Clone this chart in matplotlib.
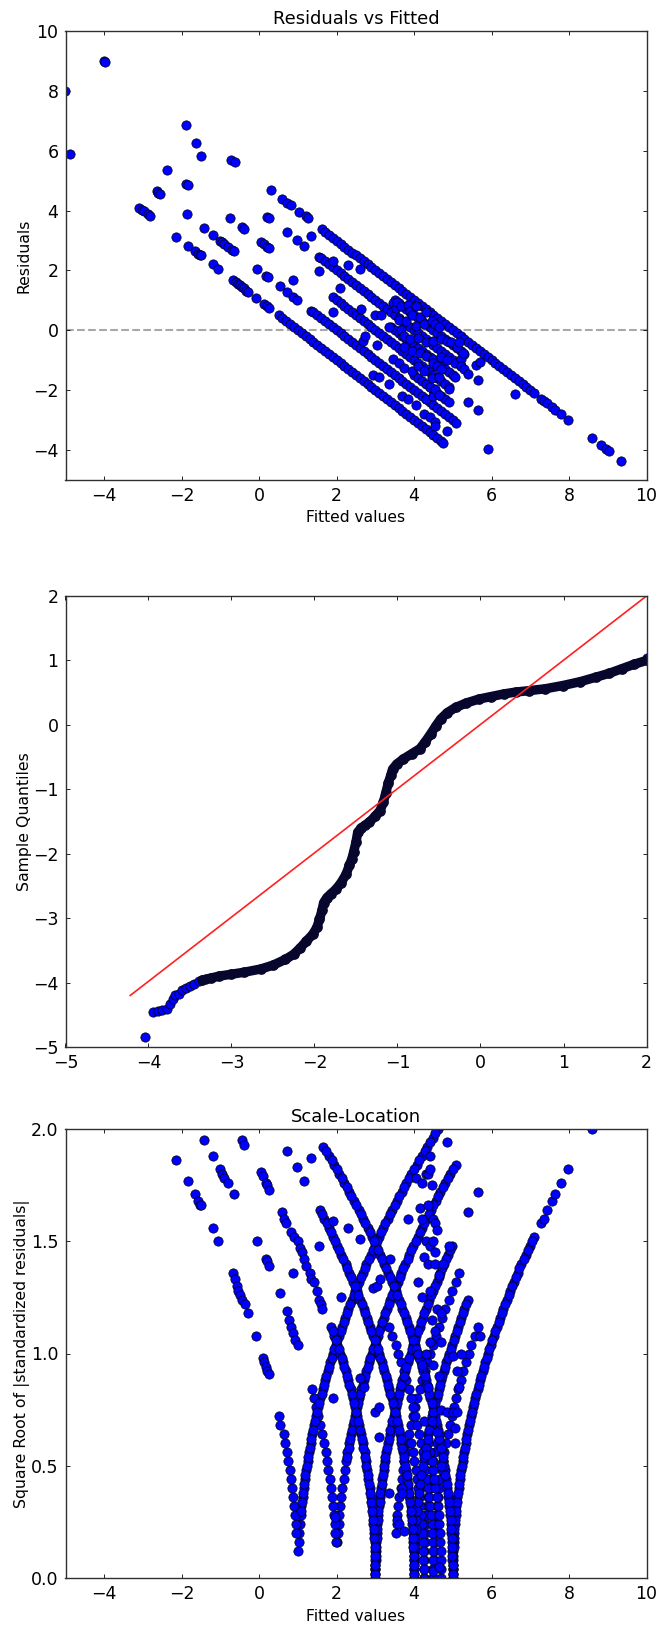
import matplotlib
matplotlib.use("Agg")
import matplotlib.pyplot as plt

# ---------- residuals vs fitted, the long diagonals ----------
fit_d1=[0.5,0.6,0.7,0.8,0.9,1.0,1.1,1.2,1.3,1.4,1.5,1.6,1.7,1.8,1.9,2.0,2.1,2.2,2.3,2.4,2.5,2.6,2.7,2.8,2.9,3.0,3.1,3.2,3.3,3.4,3.5,3.6,3.7,3.8,3.9,4.0,4.1,4.2,4.3,4.4,4.5,4.6,4.7,4.75]
res_d1=[0.5,0.4,0.3,0.2,0.1,0.0,-0.1,-0.2,-0.3,-0.4,-0.5,-0.6,-0.7,-0.8,-0.9,-1.0,-1.1,-1.2,-1.3,-1.4,-1.5,-1.6,-1.7,-1.8,-1.9,-2.0,-2.1,-2.2,-2.3,-2.4,-2.5,-2.6,-2.7,-2.8,-2.9,-3.0,-3.1,-3.2,-3.3,-3.4,-3.5,-3.6,-3.7,-3.75]
fit_d2=[1.35,1.4,1.5,1.6,1.7,1.8,1.9,2.0,2.1,2.2,2.3,2.4,2.5,2.6,2.7,2.8,2.9,3.0,3.1,3.2,3.3,3.4,3.5,3.6,3.7,3.8,3.9,4.0,4.1,4.2,4.3,4.4,4.5,4.6,4.7,4.8,4.9,5.0,5.08]
res_d2=[0.65,0.6,0.5,0.4,0.3,0.2,0.1,0.0,-0.1,-0.2,-0.3,-0.4,-0.5,-0.6,-0.7,-0.8,-0.9,-1.0,-1.1,-1.2,-1.3,-1.4,-1.5,-1.6,-1.7,-1.8,-1.9,-2.0,-2.1,-2.2,-2.3,-2.4,-2.5,-2.6,-2.7,-2.8,-2.9,-3.0,-3.08]
fit_d3=[1.9,2.0,2.1,2.2,2.3,2.4,2.5,2.6,2.7,2.8,2.9,3.0,3.1,3.2,3.3,3.4,3.5,3.6,3.7,3.8,3.9,4.0,4.1,4.2,4.3,4.4,4.5,4.6,4.7,4.8,4.9]
res_d3=[1.1,1.0,0.9,0.8,0.7,0.6,0.5,0.4,0.3,0.2,0.1,0.0,-0.1,-0.2,-0.3,-0.4,-0.5,-0.6,-0.7,-0.8,-0.9,-1.0,-1.1,-1.2,-1.3,-1.4,-1.5,-1.6,-1.7,-1.8,-1.9]
fit_d4=[1.55,1.6,1.7,1.8,1.9,2.0,2.1,2.2,2.3,2.4,2.5,2.6,2.7,2.8,2.9,3.0,3.1,3.2,3.3,3.4,3.5,3.6,3.7,3.8,3.9,4.0,4.1,4.2,4.3,4.4,4.5,4.6,4.7,4.8,4.9,5.0,5.1,5.2]
res_d4=[2.45,2.4,2.3,2.2,2.1,2.0,1.9,1.8,1.7,1.6,1.5,1.4,1.3,1.2,1.1,1.0,0.9,0.8,0.7,0.6,0.5,0.4,0.3,0.2,0.1,0.0,-0.1,-0.2,-0.3,-0.4,-0.5,-0.6,-0.7,-0.8,-0.9,-1.0,-1.1,-1.2]
fit_d5=[1.63,1.7,1.8,1.9,2.0,2.1,2.2,2.3,2.4,2.5,2.6,2.7,2.8,2.9,3.0,3.1,3.2,3.3,3.4,3.5,3.6,3.7,3.8,3.9,4.0,4.1,4.2,4.3,4.4,4.5,4.6,4.7,4.8,4.9,5.0,5.1,5.2,5.3,5.4,5.5,5.6,5.7,5.8,5.9,6.0,6.1,6.2,6.3,6.4,6.5,6.6,6.7,6.8,6.9,7.0,7.1]
res_d5=[3.37,3.3,3.2,3.1,3.0,2.9,2.8,2.7,2.6,2.5,2.4,2.3,2.2,2.1,2.0,1.9,1.8,1.7,1.6,1.5,1.4,1.3,1.2,1.1,1.0,0.9,0.8,0.7,0.6,0.5,0.4,0.3,0.2,0.1,0.0,-0.1,-0.2,-0.3,-0.4,-0.5,-0.6,-0.7,-0.8,-0.9,-1.0,-1.1,-1.2,-1.3,-1.4,-1.5,-1.6,-1.7,-1.8,-1.9,-2.0,-2.1]
# shorter diagonals inside the dense cluster
fit_d45=[3.5,3.6,3.7,3.8,3.9,4.0,4.1,4.2,4.3,4.4,4.5,4.6,4.7,4.8,4.9,5.0,5.1,5.2,5.3]
res_d45=[1.0,0.9,0.8,0.7,0.6,0.5,0.4,0.3,0.2,0.1,0.0,-0.1,-0.2,-0.3,-0.4,-0.5,-0.6,-0.7,-0.8]
fit_d35=[3.4,3.5,3.6,3.7,3.8,3.9,4.0,4.1,4.2,4.3,4.4,4.5,4.6,4.7,4.8,4.9,5.0]
res_d35=[0.1,0.0,-0.1,-0.2,-0.3,-0.4,-0.5,-0.6,-0.7,-0.8,-0.9,-1.0,-1.1,-1.2,-1.3,-1.4,-1.5]
fit_d25=[4.0,4.1,4.2,4.3,4.4,4.5,4.6,4.7,4.8,4.9]
res_d25=[-1.5,-1.6,-1.7,-1.8,-1.9,-2.0,-2.1,-2.2,-2.3,-2.4]

# the loose points, left side and the tail on the right
fit_loose=[-5.0,-4.88,-4.0,-3.97,-3.1,-3.03,-2.98,-2.87,-2.83,-2.65,-2.6,-2.57,-2.37,-2.15,-1.9,-1.88,-1.87,-1.85,-1.85,-1.65,-1.62,-1.57,-1.52,-1.5,-1.49,-1.43,-1.2,-1.2,-1.05,-1.0,-0.95,-0.9,-0.8,-0.75,-0.72,-0.7,-0.68,-0.65,-0.63,-0.6,-0.55,-0.5,-0.45,-0.45,-0.4,-0.38,-0.33,-0.28,-0.07,-0.05,0.05,0.12,0.13,0.17,0.2,0.2,0.2,0.23,0.25,0.25,0.25,0.3,0.55,0.6,0.72,0.73,0.73,0.82,0.87,0.88,0.97,0.98,1.04,1.15,1.2,1.25,1.34,7.28,7.35,7.43,7.55,7.65,7.78,7.98,8.6,8.83,8.95,9.03,9.35]
res_loose=[8.0,5.88,9.0,8.95,4.1,4.03,3.98,3.87,3.83,4.65,4.6,4.57,5.37,3.13,4.9,6.87,3.87,4.85,2.82,2.65,6.27,2.55,2.52,2.5,5.81,3.42,3.2,2.2,2.05,3.0,2.95,2.9,2.8,3.75,5.7,2.7,1.68,2.65,5.63,1.6,1.55,1.5,3.45,1.45,1.4,3.38,1.33,1.28,1.07,2.05,2.95,2.88,0.87,1.83,2.8,3.77,0.8,1.77,2.75,3.75,0.75,4.7,1.47,4.4,1.28,4.27,3.27,4.18,1.67,1.12,3.03,1.02,3.95,2.82,3.82,3.75,3.15,-2.28,-2.35,-2.43,-2.55,-2.65,-2.78,-2.98,-3.6,-3.83,-3.95,-4.03,-4.35]

# the cloud in the middle
fit_cloud=[1.55,1.9,1.9,2.08,2.3,2.6,2.62,2.68,2.73,2.95,3.0,3.05,3.1,3.15,3.35,3.35,3.45,3.45,3.52,3.55,3.6,3.6,3.65,3.65,3.7,3.75,3.75,3.75,3.8,3.85,3.85,3.9,3.9,3.95,3.95,3.95,4.05,4.05,4.05,4.1,4.1,4.15,4.15,4.25,4.25,4.25,4.3,4.3,4.3,4.3,4.4,4.4,4.45,4.45,4.5,4.5,4.5,4.5,4.55,4.55,4.55,4.55,4.6,4.65,4.65,4.65,4.7,4.7,4.7,4.85,4.85,4.85,4.9,4.95,5.05,5.05,5.1,5.15,5.2,5.2,5.25,5.3,5.4,5.4,5.6,5.65,5.65,5.7,5.92,6.6]
res_cloud=[1.98,2.3,0.6,1.4,2.18,2.05,0.72,-0.35,-0.2,-1.48,0.5,-0.5,-1.55,0.5,0.1,-1.8,0.9,-0.95,0.75,0.95,0.35,-1.1,0.8,0.0,-2.2,-0.2,-0.55,-1.25,0.3,0.85,-2.3,0.65,-0.3,0.5,-0.7,-1.35,0.8,0.15,-2.5,-0.25,-1.2,0.45,-0.75,0.2,-1.35,-2.8,0.6,-0.4,-0.85,-2.3,-1.9,-2.9,0.3,-1.6,-0.35,-0.95,-1.1,-2.2,0.2,-1.95,-3.05,-3.2,-1.2,0.1,-1.55,-2.15,-0.3,-0.9,-1.3,-0.35,-1.0,-3.35,-1.95,-0.4,-1.1,-1.55,-0.55,-0.4,-0.95,-1.2,-0.75,-1.3,-1.45,-2.4,-1.15,-1.65,-2.67,-1.05,-3.95,-2.13]

# ---------- normal quantile plot ----------
qq_tail_x=[-4.04,-3.95,-3.89,-3.84,-3.78,-3.74,-3.7,-3.68,-3.63,-3.6,-3.55,-3.5,-3.45,-3.39,-3.31]
qq_tail_y=[-4.84,-4.46,-4.44,-4.42,-4.41,-4.34,-4.25,-4.19,-4.17,-4.12,-4.09,-4.06,-4.02,-3.98,-3.95]
qq_x=[-3.35,-3.25,-3.15,-3.0,-2.85,-2.65,-2.5,-2.35,-2.25,-2.17,-2.1,-2.02,-1.97,-1.94,-1.91,-1.89,-1.85,-1.8,-1.74,-1.68,-1.62,-1.58,-1.55,-1.53,-1.5,-1.48,-1.44,-1.39,-1.34,-1.27,-1.21,-1.17,-1.14,-1.11,-1.08,-1.06,-1.01,-0.93,-0.83,-0.73,-0.67,-0.6,-0.54,-0.48,-0.4,-0.3,-0.17,-0.02,0.13,0.28,0.43,0.58,0.78,0.99,1.2,1.39,1.55,1.7,1.85,2.0]
qq_y=[-3.96,-3.93,-3.9,-3.87,-3.84,-3.79,-3.73,-3.64,-3.56,-3.46,-3.36,-3.25,-3.14,-3.02,-2.88,-2.76,-2.68,-2.62,-2.55,-2.45,-2.32,-2.18,-2.08,-1.98,-1.82,-1.67,-1.6,-1.56,-1.51,-1.42,-1.33,-1.2,-1.05,-0.9,-0.78,-0.69,-0.61,-0.53,-0.45,-0.37,-0.27,-0.14,-0.02,0.09,0.19,0.27,0.34,0.4,0.44,0.48,0.51,0.53,0.56,0.61,0.67,0.74,0.8,0.87,0.94,1.0]
qq_end_x=[2.0]
qq_end_y=[1.03]
line_x=[-4.22,2.0]
line_y=[-4.2,2.0]

# ---------- scale-location ----------
root_levels=[0.00,0.04,0.08,0.12,0.16,0.20,0.24,0.28,0.32,0.36,0.40,0.44,0.48,0.52,0.56,0.60,0.64,0.68,0.72,0.76,0.80,0.84,0.88,0.92,0.96,1.00,1.04,1.08,1.12,1.16,1.20,1.24,1.28,1.32,1.36,1.40,1.44,1.48,1.52,1.56,1.60,1.64,1.68,1.72,1.76,1.80,1.84,1.88,1.92,1.96,2.00,2.04]
root_mid=[0.02,0.06,0.10,0.14,0.18,0.22,0.26,0.30,0.34,0.38,0.42,0.46,0.50,0.54,0.58,0.62,0.66,0.70,0.74,0.78,0.82,0.86,0.90,0.94,0.98,1.02,1.06,1.10,1.14,1.18,1.22,1.26,1.30,1.34,1.38,1.42,1.46,1.50,1.54,1.58,1.62,1.66,1.70,1.74,1.78,1.82,1.86,1.90,1.94,1.98,2.02]
# fitted values of each branch, and the index of the level it starts from
rise_1=[1.01,1.02,1.04,1.05,1.07,1.09,1.12,1.15,1.18,1.21,1.25,1.28,1.33,1.37,1.42,1.47,1.52,1.58,1.64,1.70,1.77,1.83,1.91,1.98,2.06,2.14,2.22,2.30,2.39,2.48,2.58,2.67,2.77,2.88,2.98,3.09,3.20,3.32,3.43,3.56,3.68,3.80,3.93,4.07,4.20,4.34,4.48,4.62]
rise_2=[2.02,2.04,2.05,2.07,2.09,2.12,2.15,2.18,2.21,2.25,2.28,2.33,2.37,2.42,2.47,2.52,2.58,2.64,2.70,2.77,2.83,2.91,2.98,3.06,3.14,3.22,3.30,3.39,3.48,3.58,3.67,3.77,3.88,3.98,4.09,4.20,4.32,4.43,4.56,4.68,4.80,4.93,5.07]
rise_3=[3.00,3.01,3.01,3.02,3.04,3.05,3.07,3.09,3.12,3.15,3.18,3.21,3.25,3.28,3.33,3.37,3.42,3.47,3.52,3.58,3.64,3.70,3.77,3.83,3.91,3.98,4.06,4.14,4.22,4.30,4.39,4.48,4.58,4.67,4.77,4.88,4.98]
rise_4=[4.00,4.00,4.01,4.01,4.02,4.04,4.05,4.07,4.09,4.12,4.15,4.18,4.21,4.25,4.28,4.33,4.37,4.42,4.47,4.52,4.58,4.64,4.70,4.77,4.83,4.91,4.98,5.06,5.14,5.22,5.30,5.39]
rise_5=[5.00,5.00,5.01,5.01,5.02,5.04,5.05,5.07,5.09,5.12,5.15,5.18,5.21,5.25,5.28,5.33,5.37,5.42,5.47,5.52,5.58,5.64,5.70,5.77,5.83,5.91,5.98,6.06,6.14,6.22,6.30,6.39,6.48,6.58,6.67,6.77,6.88,6.98,7.09]
rise_35=[3.54,3.55,3.57,3.59,3.62,3.65,3.68,3.71,3.75,3.78,3.83,3.87,3.92,3.97,4.02,4.08,4.14,4.20,4.27,4.33,4.41,4.48,4.56,4.64,4.72,4.80,4.89,4.98,5.08,5.17]
rise_45=[4.50,4.50,4.51,4.51,4.52,4.54,4.55,4.57,4.59,4.62,4.65,4.68,4.71,4.75,4.78,4.83,4.87,4.92,4.97,5.02,5.08,5.14,5.20,5.27,5.33,5.41,5.48,5.56,5.64]
rise_425=[4.25,4.25,4.26,4.26,4.27,4.29,4.30,4.32,4.34,4.37,4.40,4.43,4.46,4.50,4.53,4.58]
fall_1=[0.96,0.95,0.93,0.91,0.88,0.85,0.82,0.79,0.75,0.72,0.67,0.63,0.55,0.50]
fall_2=[1.98,1.96,1.95,1.93,1.91,1.88,1.85,1.82,1.79,1.75,1.72,1.67,1.63,1.58,1.53,1.48,1.42,1.36]
fall_3=[3.00,3.00,2.99,2.99,2.98,2.96,2.95,2.93,2.91,2.88,2.85,2.82,2.79,2.75,2.72,2.67,2.63,2.58,2.53,2.48,2.42,2.36,2.30,2.23,2.17,2.09,2.02,1.94,1.86]
fall_4=[4.00,4.00,3.99,3.99,3.98,3.96,3.95,3.93,3.91,3.88,3.85,3.82,3.79,3.75,3.72,3.67,3.63,3.58,3.53,3.48,3.42,3.36,3.30,3.23,3.17,3.09,3.02,2.94,2.86,2.78,2.70,2.61,2.52,2.42,2.33,2.23,2.12,2.02,1.91,1.80,1.68,1.57]
fall_45=[4.50,4.50,4.49,4.49,4.48,4.46,4.45,4.43,4.41,4.38,4.35,4.32,4.29,4.25,4.22,4.17,4.13,4.08,4.03,3.98,3.92,3.86,3.80,3.73,3.67,3.59,3.52,3.44,3.36]
fall_5=[5.00,5.00,4.99,4.99,4.98,4.96,4.95,4.93,4.91,4.88,4.85,4.82,4.79,4.75,4.72,4.67,4.63,4.58,4.53,4.48,4.42,4.36,4.30,4.23,4.17,4.09,4.02,3.94,3.86,3.78,3.70,3.61,3.52,3.42,3.33,3.23,3.12,3.02,2.91,2.80,2.68,2.57,2.44,2.32,2.20,2.07,1.93,1.80,1.66]
fall_425=[4.25,4.25,4.24,4.24,4.23,4.21,4.20,4.18,4.16,4.13,4.10,4.07,4.04,4.00,3.97,3.92]
fall_47=[4.70,4.70,4.69,4.69,4.68,4.66,4.65,4.63,4.61,4.58,4.55,4.52,4.49,4.45,4.42,4.37]
branches=[(rise_1,3),(rise_2,4),(rise_3,1),(rise_4,0),(rise_5,0),(rise_35,5),(rise_45,0),(rise_425,0),(fall_1,5),(fall_2,4),(fall_3,0),(fall_4,0),(fall_45,0),(fall_5,0),(fall_425,0),(fall_47,0)]

# the same branches read again between the levels, they are dense in the picture
rise_1b=[1.08,1.11,1.13,1.16,1.19,1.23,1.26,1.31,1.35,1.39,1.44,1.50,1.55,1.61,1.67,1.73,1.80,1.87,1.94,2.02,2.10,2.18,2.26,2.35,2.44,2.53,2.63,2.72,2.83,2.93,3.04,3.15,3.26,3.38,3.50,3.62,3.74,3.87,4.00,4.13,4.27,4.41,4.55,4.69]
rise_2b=[2.26,2.31,2.35,2.39,2.44,2.50,2.55,2.61,2.67,2.73,2.80,2.87,2.94,3.02,3.10,3.18,3.26,3.35,3.44,3.53,3.63,3.72,3.83,3.93,4.04,4.15,4.26,4.38,4.50,4.62,4.74,4.87,5.00]
rise_3b=[3.00,3.00,3.01,3.02,3.03,3.04,3.06,3.08,3.11,3.13,3.16,3.19,3.23,3.26,3.31,3.35,3.39,3.44,3.50,3.55,3.61,3.67,3.73,3.80,3.87,3.94,4.02,4.10,4.18,4.26,4.35,4.44,4.53,4.63,4.72,4.83,4.93]
rise_4b=[4.00,4.00,4.01,4.02,4.03,4.04,4.06,4.08,4.11,4.13,4.16,4.19,4.23,4.26,4.31,4.35,4.39,4.44,4.50,4.55,4.61,4.67,4.73,4.80,4.87,4.94,5.02,5.10,5.18,5.26,5.35]
rise_5b=[5.00,5.00,5.01,5.02,5.03,5.04,5.06,5.08,5.11,5.13,5.16,5.19,5.23,5.26,5.31,5.35,5.39,5.44,5.50,5.55,5.61,5.67,5.73,5.80,5.87,5.94,6.02,6.10,6.18,6.26,6.35,6.44,6.53,6.63,6.72,6.83,6.93,7.04]
fall_3b=[3.00,3.00,2.99,2.98,2.97,2.96,2.94,2.92,2.89,2.87,2.84,2.81,2.77,2.74,2.69,2.65,2.61,2.56,2.50,2.45,2.39,2.33,2.27,2.20,2.13,2.06,1.98,1.90]
fall_4b=[4.00,4.00,3.99,3.98,3.97,3.96,3.94,3.92,3.89,3.87,3.84,3.81,3.77,3.74,3.69,3.65,3.61,3.56,3.50,3.45,3.39,3.33,3.27,3.20,3.13,3.06,2.98,2.90,2.82,2.74,2.65,2.56,2.47,2.37,2.28,2.17,2.07,1.96,1.85,1.74,1.62]
fall_5b=[5.00,5.00,4.99,4.98,4.97,4.96,4.94,4.92,4.89,4.87,4.84,4.81,4.77,4.74,4.69,4.65,4.61,4.56,4.50,4.45,4.39,4.33,4.27,4.20,4.13,4.06,3.98,3.90,3.82,3.74,3.65,3.56,3.47,3.37,3.28,3.17,3.07,2.96,2.85,2.74,2.62,2.50,2.38,2.26,2.13,2.00,1.87,1.73]
branches_mid=[(rise_1b,7),(rise_2b,13),(rise_3b,0),(rise_4b,0),(rise_5b,0),(fall_3b,0),(fall_4b,0),(fall_5b,0)]

sl_x=[-2.15,-1.85,-1.65,-1.57,-1.52,-1.5,-1.43,-1.2,-1.2,-1.05,-1.0,-0.95,-0.9,-0.8,-0.68,-0.65,-0.63,-0.58,-0.55,-0.5,-0.45,-0.45,-0.38,-0.37,-0.3,-0.08,-0.05,0.05,0.1,0.1,0.13,0.17,0.17,0.17,0.2,0.2,0.2,0.25,0.25,0.25,0.55,0.58,0.63,0.7,0.72,0.73,0.77,0.82,0.82,0.87,0.88,0.9,0.93,0.97,1.0,1.0,1.05,1.1,1.15,1.15,1.2,1.3,1.33,1.34,1.42,1.5,1.55,1.55,1.6,1.62,1.9,1.9,1.95,2.1,2.3,2.6,2.6,2.7,2.95,3.0,3.05,3.1,3.1,3.12,3.35,3.38,3.55,3.6,3.7,3.7,3.75,3.85,
     4.05,4.1,4.1,4.15,4.2,4.2,4.2,4.2,4.25,4.25,4.3,4.3,4.3,4.3,4.35,4.35,4.35,4.37,4.4,4.4,4.4,4.4,4.4,4.45,4.45,4.45,4.48,4.5,4.5,4.5,4.55,4.55,4.55,4.55,4.6,4.6,4.6,4.65,4.65,4.65,4.7,4.7,4.7,4.7,4.75,4.85,4.85,4.9,5.0,5.0,5.05,5.05,5.1,5.1,5.15,5.2,5.4,5.65,5.7,7.28,7.35,7.43,7.55,7.65,7.78,7.98,8.6]
sl_y=[1.86,1.77,1.71,1.68,1.66,1.66,1.95,1.88,1.56,1.5,1.82,1.8,1.78,1.76,1.36,1.71,1.33,1.3,1.28,1.26,1.95,1.24,1.93,1.22,1.18,1.08,1.5,1.81,1.79,0.98,0.96,1.76,1.42,0.94,1.75,1.41,0.92,1.73,1.39,0.91,1.27,1.63,1.6,1.58,1.19,1.9,1.15,1.54,1.12,1.36,1.09,1.52,1.06,1.83,1.5,1.04,1.47,1.45,1.77,1.42,1.39,1.36,1.33,1.87,1.32,1.28,1.48,1.24,1.22,1.2,1.59,0.8,0.27,1.25,1.56,1.51,0.89,0.85,1.29,0.74,1.3,0.76,0.63,1.33,0.38,1.42,0.26,0.24,0.4,0.38,0.21,1.6,
     1.78,1.32,1.0,1.65,1.76,1.6,1.25,0.95,1.43,0.7,1.8,1.5,1.0,0.55,1.66,1.4,0.85,1.8,1.88,1.82,1.48,1.28,1.05,1.75,1.15,0.7,0.03,1.6,1.5,0.95,1.58,1.45,1.4,1.1,1.55,1.2,0.65,1.35,0.9,0.05,1.18,1.05,0.75,0.5,1.4,1.94,0.74,1.48,0.99,0.74,0.67,0.6,0.92,0.74,0.85,1.0,1.63,1.72,1.08,1.58,1.6,1.64,1.68,1.71,1.76,1.82,2.0]

# ----------------------------------------------------------
W=658.0
H=1626.0
def make_axes(top,bottom):
    return fig.add_axes([65.5/W,1-bottom/H,581/W,(bottom-top)/H])

def dots(ax,x,y):
    ax.plot(x,y,"o",color="#0000ff",ms=6.7,mec="black",mew=0.5,linestyle="none")

def dress(ax):
    ax.tick_params(direction="in",top=True,right=True,length=3,width=0.6,labelsize=12.5,pad=5)
    for s in ax.spines.values():
        s.set_linewidth(1.0)
        s.set_color("#303030")

fig=plt.figure(figsize=(W/100,H/100),dpi=100)

# top panel
ax1=make_axes(31,480)
ax1.axhline(0,color="#a8a8a8",linestyle="--",linewidth=1.5,zorder=1)
for x,y in [(fit_d1,res_d1),(fit_d2,res_d2),(fit_d3,res_d3),(fit_d4,res_d4),(fit_d5,res_d5),(fit_d45,res_d45),(fit_d35,res_d35),(fit_d25,res_d25),(fit_cloud,res_cloud),(fit_loose,res_loose)]:
    dots(ax1,x,y)
ax1.set_xlim(-5,10)
ax1.set_ylim(-5,10)
ax1.set_xticks([-4,-2,0,2,4,6,8,10])
ax1.set_yticks([-4,-2,0,2,4,6,8,10])
ax1.set_title("Residuals vs Fitted",fontsize=12.9,pad=5)
ax1.set_xlabel("Fitted values",fontsize=11.2)
ax1.set_ylabel("Residuals",fontsize=11.3,labelpad=1)
dress(ax1)

# middle panel
ax2=make_axes(596,1047)
dots(ax2,qq_tail_x,qq_tail_y)
dots(ax2,qq_end_x,qq_end_y)
ax2.plot(qq_x,qq_y,"-o",color="#07072e",lw=6.8,ms=6.7,solid_capstyle="round")
ax2.plot(line_x,line_y,color="#ff2020",lw=1.2)
ax2.set_xlim(-5,2)
ax2.set_ylim(-5,2)
ax2.set_xticks([-5,-4,-3,-2,-1,0,1,2])
ax2.set_yticks([-5,-4,-3,-2,-1,0,1,2])
ax2.set_ylabel("Sample Quantiles",fontsize=11.3,labelpad=1)
dress(ax2)

# bottom panel
ax3=make_axes(1129,1578)
for fitted,first in branches:
    dots(ax3,fitted,root_levels[first:first+len(fitted)])
for fitted,first in branches_mid:
    dots(ax3,fitted,root_mid[first:first+len(fitted)])
dots(ax3,sl_x,sl_y)
ax3.set_xlim(-5,10)
ax3.set_ylim(0,2)
ax3.set_xticks([-4,-2,0,2,4,6,8,10])
ax3.set_yticks([0.0,0.5,1.0,1.5,2.0])
ax3.set_title("Scale-Location",fontsize=12.9,pad=5)
ax3.set_xlabel("Fitted values",fontsize=11.2)
ax3.set_ylabel("Square Root of |standardized residuals|",fontsize=11.3,labelpad=1)
dress(ax3)

fig.savefig("out.png",dpi=100)
